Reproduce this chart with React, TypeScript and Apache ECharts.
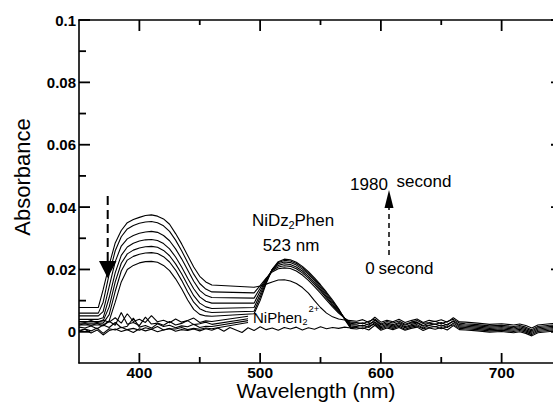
import React, { useEffect, useRef } from "react";
import * as echarts from "echarts";

// ---- data ----
// wavelengths (nm) for the seven time-resolved spectra
const wavelengthsA = [
  350, 366, 370, 375, 380, 385, 390, 395, 400, 405, 410, 415, 420, 425, 430, 435, 440, 445, 450, 455, 460,
  495, 500, 505, 510, 515, 520, 525, 530, 535, 540, 545, 550, 555, 560, 565, 570, 575,
  580, 585, 590, 595, 600, 605, 610, 615, 620, 625, 630, 635, 640, 645, 650, 655, 660, 665,
  670, 680, 690, 700, 710, 715, 720, 725, 730, 740, 750,
];
// 350–460 nm part (band at ~410 nm), one row per spectrum (0 s ... 1980 s)
const band410 = [
  [0.0078, 0.0078, 0.0135, 0.0215, 0.0285, 0.0325, 0.035, 0.036, 0.0367, 0.0373, 0.0375, 0.0371, 0.0362, 0.0345, 0.0315, 0.0282, 0.0245, 0.0208, 0.0178, 0.016, 0.015],
  [0.006, 0.006, 0.0095, 0.0185, 0.026, 0.0305, 0.033, 0.0341, 0.0348, 0.0352, 0.0354, 0.035, 0.034, 0.0322, 0.0294, 0.026, 0.0222, 0.0185, 0.0155, 0.0137, 0.0128],
  [0.0051, 0.0051, 0.0065, 0.0145, 0.0225, 0.0275, 0.0298, 0.0309, 0.0316, 0.032, 0.0322, 0.0319, 0.0309, 0.0292, 0.0266, 0.0234, 0.0198, 0.0162, 0.0133, 0.0117, 0.011],
  [0.004, 0.004, 0.0045, 0.011, 0.019, 0.0245, 0.0272, 0.0284, 0.0291, 0.0295, 0.0296, 0.0293, 0.0283, 0.0266, 0.024, 0.0208, 0.0172, 0.0138, 0.0112, 0.0098, 0.0092],
  [0.0033, 0.0033, 0.0035, 0.008, 0.016, 0.022, 0.025, 0.0262, 0.0269, 0.0273, 0.0274, 0.0271, 0.0261, 0.0244, 0.0218, 0.0186, 0.015, 0.0116, 0.0092, 0.008, 0.0075],
  [0.0028, 0.0028, 0.0028, 0.0055, 0.013, 0.0195, 0.023, 0.0242, 0.0249, 0.0253, 0.0254, 0.0251, 0.0241, 0.0224, 0.0198, 0.0165, 0.0128, 0.0095, 0.0074, 0.0065, 0.0062],
  [0.0022, 0.0022, 0.0022, 0.0035, 0.0095, 0.016, 0.02, 0.0213, 0.0221, 0.0225, 0.0226, 0.0223, 0.0213, 0.0196, 0.017, 0.0138, 0.0102, 0.0072, 0.0056, 0.0051, 0.005],
];
// 495–575 nm part (band at ~523 nm)
const band523 = [
  [0.0143, 0.0147, 0.0153, 0.016, 0.0166, 0.0167, 0.0163, 0.0155, 0.0142, 0.0124, 0.01, 0.0078, 0.006, 0.0048, 0.0041, 0.0038, 0.0036],
  [0.0125, 0.0148, 0.0172, 0.0192, 0.0202, 0.0205, 0.0203, 0.0195, 0.0182, 0.0165, 0.0145, 0.0124, 0.0102, 0.008, 0.006, 0.0044, 0.0031],
  [0.0108, 0.014, 0.017, 0.0196, 0.0208, 0.0212, 0.021, 0.0202, 0.0189, 0.0172, 0.0152, 0.0131, 0.0108, 0.0085, 0.0063, 0.0044, 0.0027],
  [0.0092, 0.013, 0.0168, 0.0198, 0.0213, 0.0218, 0.0216, 0.0208, 0.0195, 0.0178, 0.0158, 0.0136, 0.0113, 0.0089, 0.0066, 0.0044, 0.0023],
  [0.0078, 0.012, 0.0165, 0.02, 0.0218, 0.0224, 0.0222, 0.0214, 0.0201, 0.0184, 0.0164, 0.0142, 0.0118, 0.0094, 0.007, 0.0043, 0.0019],
  [0.0066, 0.011, 0.016, 0.02, 0.0222, 0.0229, 0.0227, 0.0219, 0.0206, 0.0189, 0.0169, 0.0147, 0.0123, 0.0098, 0.0072, 0.0041, 0.0015],
  [0.0058, 0.01, 0.0155, 0.02, 0.0225, 0.0233, 0.0231, 0.0223, 0.021, 0.0193, 0.0173, 0.0151, 0.0127, 0.0102, 0.0074, 0.004, 0.0011],
];
// 580–750 nm part (noisy baseline)
const tailA = [
  [0.0034, 0.0039, 0.003, 0.0047, 0.0031, 0.0037, 0.0032, 0.004, 0.003, 0.0036, 0.0041, 0.003, 0.0037, 0.0033, 0.0039, 0.0031, 0.0045, 0.0032,
    0.0031, 0.0028, 0.0024, 0.0026, 0.0022, 0.0025, 0.002, 0.0012, 0.0022, 0.0026, 0.0028],
  [0.003, 0.0026, 0.0034, 0.0041, 0.0025, 0.0033, 0.0028, 0.0035, 0.0024, 0.0031, 0.0036, 0.0027, 0.003, 0.0034, 0.0026, 0.0033, 0.004, 0.0028,
    0.0026, 0.0023, 0.0019, 0.0021, 0.0017, 0.002, 0.0015, 0.0007, 0.0017, 0.0021, 0.0023],
  [0.0025, 0.0029, 0.0021, 0.0038, 0.0022, 0.0028, 0.0023, 0.003, 0.0021, 0.0028, 0.0031, 0.002, 0.0028, 0.0024, 0.003, 0.0021, 0.0036, 0.0023,
    0.0022, 0.0019, 0.0015, 0.0017, 0.0013, 0.0016, 0.0011, 0.0003, 0.0013, 0.0017, 0.0019],
  [0.0022, 0.0018, 0.0026, 0.0032, 0.0017, 0.0024, 0.0019, 0.0027, 0.0016, 0.0023, 0.0028, 0.0018, 0.0022, 0.0025, 0.0018, 0.0024, 0.0033, 0.0019,
    0.0018, 0.0015, 0.0011, 0.0013, 0.0009, 0.0012, 0.0007, -0.0001, 0.0009, 0.0013, 0.0015],
  [0.0017, 0.0021, 0.0014, 0.003, 0.0013, 0.002, 0.0015, 0.0022, 0.0013, 0.0019, 0.0023, 0.0012, 0.002, 0.0016, 0.0022, 0.0014, 0.0028, 0.0015,
    0.0014, 0.0011, 0.0007, 0.0009, 0.0005, 0.0008, 0.0003, -0.0005, 0.0005, 0.0009, 0.0011],
  [0.0014, 0.001, 0.0018, 0.0025, 0.0009, 0.0016, 0.0011, 0.0018, 0.0008, 0.0015, 0.0019, 0.001, 0.0014, 0.0017, 0.001, 0.0016, 0.0023, 0.0011,
    0.001, 0.0007, 0.0003, 0.0005, 0.0001, 0.0004, -0.0001, -0.0009, 0.0001, 0.0005, 0.0007],
  [0.0009, 0.0013, 0.0006, 0.0021, 0.0005, 0.0012, 0.0007, 0.0014, 0.0005, 0.0011, 0.0015, 0.0004, 0.0012, 0.0008, 0.0014, 0.0006, 0.002, 0.0007,
    0.0006, 0.0003, -0.0001, 0.0001, -0.0003, 0.0, -0.0005, -0.0013, -0.0003, 0.0001, 0.0003],
];
// noisy low spectra in the 350–490 nm range
const wavelengthsB = [350, 355, 360, 365, 370, 375, 380, 385, 390, 395, 400, 405, 410, 415, 420, 425, 430, 435, 440, 445, 450, 455, 460, 490];
const lowSpectra = [
  [0.0034, 0.003, 0.0036, 0.0029, 0.0038, 0.0031, 0.0045, 0.0028, 0.0058, 0.0033, 0.004, 0.003, 0.0052, 0.0032, 0.0037, 0.0029, 0.0041, 0.0031, 0.0036, 0.0044, 0.003, 0.0035, 0.0033, 0.005],
  [0.0022, 0.0026, 0.002, 0.0027, 0.0019, 0.0034, 0.0021, 0.0062, 0.0024, 0.003, 0.002, 0.0047, 0.0025, 0.0028, 0.0021, 0.0033, 0.0022, 0.0027, 0.0036, 0.0023, 0.0026, 0.0031, 0.0024, 0.0042],
  [0.0015, 0.0012, 0.0019, 0.001, 0.0022, 0.0014, 0.003, 0.0013, 0.0018, 0.0044, 0.0015, 0.002, 0.0012, 0.0026, 0.0017, 0.0021, 0.0013, 0.0019, 0.0016, 0.0024, 0.0014, 0.0018, 0.0017, 0.0036],
  [0.0004, 0.0009, 0.0003, 0.0012, -0.0005, 0.001, 0.0006, 0.0015, 0.0007, 0.0011, 0.0005, 0.0013, 0.0008, 0.0017, 0.0006, 0.001, 0.0009, 0.0014, 0.0007, 0.0011, 0.0008, 0.0012, 0.001, 0.003],
];
// NiPhen2(2+) reference spectrum
const wavelengthsN = [
  350, 355, 360, 365, 370, 375, 380, 385, 390, 395, 400, 405, 410, 415, 420, 425, 430, 435, 440, 445,
  450, 455, 460, 465, 470, 475, 480, 485, 490, 495, 500, 505, 510, 515, 520, 525, 530, 535, 540, 545,
  550, 555, 560, 565, 570, 575, 580,
];
const niPhenSpectrum = [
  0.0002, 0.0008, -0.0004, 0.0006, -0.001, 0.0004, 0.0009, 0.0001, 0.0007, -0.0002,
  0.001, 0.0003, 0.0008, 0.0, 0.0006, 0.0011, 0.0002, 0.0007, 0.0004, 0.0009,
  0.0003, 0.001, 0.0005, 0.0012, 0.0002, 0.0014, 0.0006, -0.0002, 0.0013, 0.0004,
  0.0016, 0.0007, 0.0012, 0.0005, 0.0014, 0.0009, 0.0015, 0.0006, 0.0013, 0.0008,
  0.0016, 0.001, 0.0014, 0.0011, 0.0015, 0.0012, 0.0018,
];
const xMajorTicks = [400, 500, 600, 700];
const xMinorTicks = [450, 550, 650];
const yMajorTicks = [0, 0.02, 0.04, 0.06, 0.08, 0.1];
const yMinorTicks = [0.01, 0.03, 0.05, 0.07, 0.09];
const X_MIN = 350;
const X_MAX = 750;
const Y_MIN = -0.01;
const Y_MAX = 0.1;

const FONT = '"Liberation Sans", Arial, Helvetica, sans-serif';

function zip(xs: number[], ys: number[]) {
  return xs.map((x, i) => [x, ys[i]]);
}

export default function App() {
  const ref = useRef<HTMLDivElement>(null);
  useEffect(() => {
    if (!ref.current) return;
    const chart = echarts.init(ref.current, undefined, { renderer: "svg" });

    const lineAxis = { color: "#000", width: 1.6 };
    const xAxisDef = (pos: string, labels: boolean) => ({
      type: "value",
      min: X_MIN,
      max: X_MAX,
      position: pos,
      axisLine: { show: true, onZero: false, lineStyle: lineAxis },
      axisTick: { show: false },
      axisLabel: labels
        ? { show: true, customValues: xMajorTicks, fontFamily: FONT, fontWeight: "bold", fontSize: 15.5, color: "#000", margin: 1 }
        : { show: false },
      splitLine: { show: false },
    });
    const yAxisDef = (pos: string, labels: boolean) => ({
      type: "value",
      min: Y_MIN,
      max: Y_MAX,
      position: pos,
      axisLine: { show: true, onZero: false, lineStyle: lineAxis },
      axisTick: { show: false },
      axisLabel: labels
        ? {
            show: true,
            customValues: yMajorTicks,
            fontFamily: FONT,
            fontWeight: "bold",
            fontSize: 15,
            color: "#000",
            margin: 3,
            formatter: (v: number) => (Math.abs(v) < 1e-9 ? "0" : String(Math.round(v * 100) / 100)),
          }
        : { show: false },
      splitLine: { show: false },
    });

    const lineSeries = (data: number[][], w = 1.1) => ({
      type: "line",
      xAxisIndex: 0,
      yAxisIndex: 0,
      data,
      symbol: "none",
      showSymbol: false,
      silent: true,
      lineStyle: { color: "#000", width: w },
      clip: true,
    });

    const series: any[] = [];
    band410.forEach((row, i) => {
      const ys = row.concat(band523[i], tailA[i]);
      series.push(lineSeries(zip(wavelengthsA, ys)));
    });
    lowSpectra.forEach((row) => series.push(lineSeries(zip(wavelengthsB, row))));
    series.push(lineSeries(zip(wavelengthsN, niPhenSpectrum)));

    const txt = (text: string, x: number, y: number, size: number, align = "center") => ({
      type: "text",
      x,
      y,
      silent: true,
      style: { text, fontFamily: FONT, fontSize: size, fill: "#000", align, verticalAlign: "middle" },
    });

    const annotations: any[] = [
      // axis titles
      { ...txt("Absorbance", 22, 177, 22), rotation: Math.PI / 2 },
      txt("Wavelength (nm)", 316, 390.5, 21),
      // NiDz2Phen label
      txt("NiDz", 252, 220.5, 17, "left"),
      txt("2", 288.5, 225, 11, "left"),
      txt("Phen", 294.5, 220.5, 17, "left"),
      txt("523 nm", 291, 245, 17),
      // time labels
      txt("1980", 369, 184, 17),
      txt("second", 424, 181, 17),
      txt("0", 370, 268, 17),
      txt("second", 406, 268, 17),
      // NiPhen2 2+ label
      txt("NiPhen", 253, 317, 15, "left"),
      txt("2", 302.5, 321.5, 9, "left"),
      txt("2+", 308.5, 308, 9.5, "left"),
      // dashed arrow down (410 nm band decreases)
      {
        type: "line",
        silent: true,
        shape: { x1: 107.7, y1: 196, x2: 107.7, y2: 262 },
        style: { stroke: "#000", lineWidth: 2, lineDash: [9, 5] },
      },
      {
        type: "polygon",
        silent: true,
        shape: { points: [[99, 261], [116.5, 261], [107.7, 278]] },
        style: { fill: "#000" },
      },
      // dashed arrow up (523 nm band increases)
      {
        type: "line",
        silent: true,
        shape: { x1: 389, y1: 255, x2: 389, y2: 207 },
        style: { stroke: "#000", lineWidth: 1.5, lineDash: [5, 4] },
      },
      {
        type: "polygon",
        silent: true,
        shape: { points: [[384.5, 208], [393.5, 208], [389, 190]] },
        style: { fill: "#000" },
      },
    ];

    chart.setOption({
      animation: false,
      grid: { left: 79, top: 20, right: -9, bottom: 40, outerBoundsMode: "none", containLabel: false },
      xAxis: [xAxisDef("bottom", true), xAxisDef("top", false)],
      yAxis: [yAxisDef("left", true), yAxisDef("right", false)],
      series,
    });

    // inward tick marks on all four sides, placed through the axes' own scales
    const px = (v: number) => Number(chart.convertToPixel({ xAxisIndex: 0 }, v));
    const py = (v: number) => Number(chart.convertToPixel({ yAxisIndex: 0 }, v));
    const xl = px(X_MIN);
    const xr = px(X_MAX);
    const yb = py(Y_MIN);
    const yt = py(Y_MAX);
    const tickEls: any[] = [];
    const addTick = (x1: number, y1: number, x2: number, y2: number) =>
      tickEls.push({
        type: "line",
        z: 50,
        shape: { x1, y1, x2, y2 },
        style: { stroke: "#000", lineWidth: 1.8 },
      });
    xMajorTicks.forEach((v) => {
      const x = px(v);
      addTick(x, yb, x, yb - 10);
      addTick(x, yt, x, yt + 11);
    });
    xMinorTicks.forEach((v) => {
      const x = px(v);
      addTick(x, yb, x, yb - 6);
      addTick(x, yt, x, yt + 5);
    });
    yMajorTicks.forEach((v) => {
      const y = py(v);
      addTick(xl, y, xl + 11, y);
      addTick(xr, y, xr - 11, y);
    });
    yMinorTicks.forEach((v) => {
      const y = py(v);
      addTick(xl, y, xl + 7, y);
      addTick(xr, y, xr - 7, y);
    });

    chart.setOption({ graphic: annotations.concat(tickEls) });
    return () => chart.dispose();
  }, []);

  return (
    <div
      ref={ref}
      style={{ position: "absolute", left: 0, top: 0, width: 553, height: 403, background: "#fff" }}
    />
  );
}
